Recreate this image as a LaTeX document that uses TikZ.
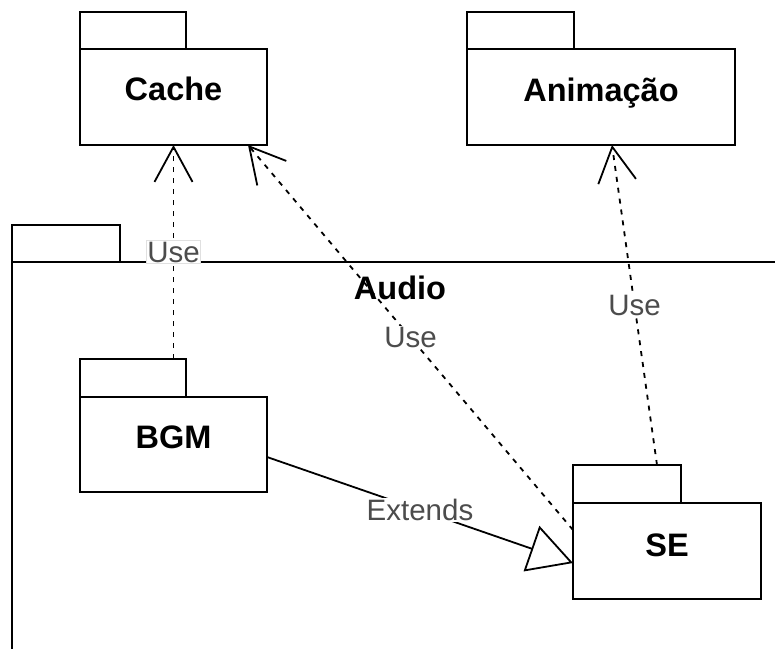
\documentclass[tikz,border=0pt]{standalone}
\usepackage{fontspec}
\setmainfont{Liberation Sans}
\usetikzlibrary{arrows.meta,calc}
\begin{document}
\begin{tikzpicture}[x=1pt,y=-1pt,
  pkg/.style={draw, line width=2.2pt, fill=white, inner sep=0pt, outer sep=0pt},
  pkgline/.style={line width=2.2pt},
  pkgtitle/.style={font=\fontsize{32.5}{38}\selectfont\bfseries, text height=23.3pt, text depth=0pt, inner sep=0pt},
  lbl/.style={font=\fontsize{29.5}{34}\selectfont, text=black!70, fill=white, inner sep=1pt},
  usearrow/.style={draw, line width=1.8pt, dash pattern=on 5pt off 6pt, -{Straight Barb[length=35pt,width=38pt]}},
  extarrow/.style={draw, line width=1.8pt, -{Triangle[open,length=44pt,width=48pt]}}]
\useasboundingbox (0,0) rectangle (775,648);
% Audio package
\node[pkg, minimum width=108, minimum height=37, anchor=north west] (audiotab) at (12,225) {};
\draw[pkgline] (audiotab.south west) -- (12,650);
\draw[pkgline] (audiotab.south west) -- (777,262);
\node[pkgtitle] (audio) at (400,288) {Audio};
% Cache
\node[pkg, minimum width=187, minimum height=96, anchor=north west] (cache) at (80,49) {};
\node[pkg, minimum width=106, minimum height=37, anchor=south west] (cachetab) at (80,49) {};
\node[pkgtitle, yshift=8pt] (cachetxt) at (cache.center) {Cache};
% Animacao
\node[pkg, minimum width=268, minimum height=96, anchor=north west] (anim) at (467,49) {};
\node[pkg, minimum width=107, minimum height=37, anchor=south west] (animtab) at (467,49) {};
\node[pkgtitle, yshift=7pt] (animtxt) at (anim.center) {Animação};
% BGM
\node[pkg, minimum width=187, minimum height=95, anchor=north west] (bgm) at (80,397) {};
\node[pkg, minimum width=106, minimum height=38, anchor=south west] (bgmtab) at (80,397) {};
\node[pkgtitle, yshift=7.5pt] (bgmtxt) at (bgm.center) {BGM};
% SE
\node[pkg, minimum width=188, minimum height=96, anchor=north west] (se) at (573,503) {};
\node[pkg, minimum width=108, minimum height=38, anchor=south west] (setab) at (573,503) {};
\node[pkgtitle, yshift=6pt] (setxt) at (se.center) {SE};
% connectors
\draw[usearrow] (cache.south |- bgmtab.north) -- node[lbl, draw=black!12, line width=0.8pt, solid]{Use} (cache.south);
\draw[usearrow] ($(se.north west)+(0,27)$) -- node[lbl]{Use} ($(cache.south east)+(-19,0)$);
\draw[usearrow] ($(setab.north west)+(84,0)$) -- node[lbl]{Use} ($(anim.south west)+(145,0)$);
\draw[extarrow] ($(bgm.east)+(0,12.5)$) -- node[lbl]{Extends} ($(se.west)+(0,12)$);
\end{tikzpicture}
\end{document}
